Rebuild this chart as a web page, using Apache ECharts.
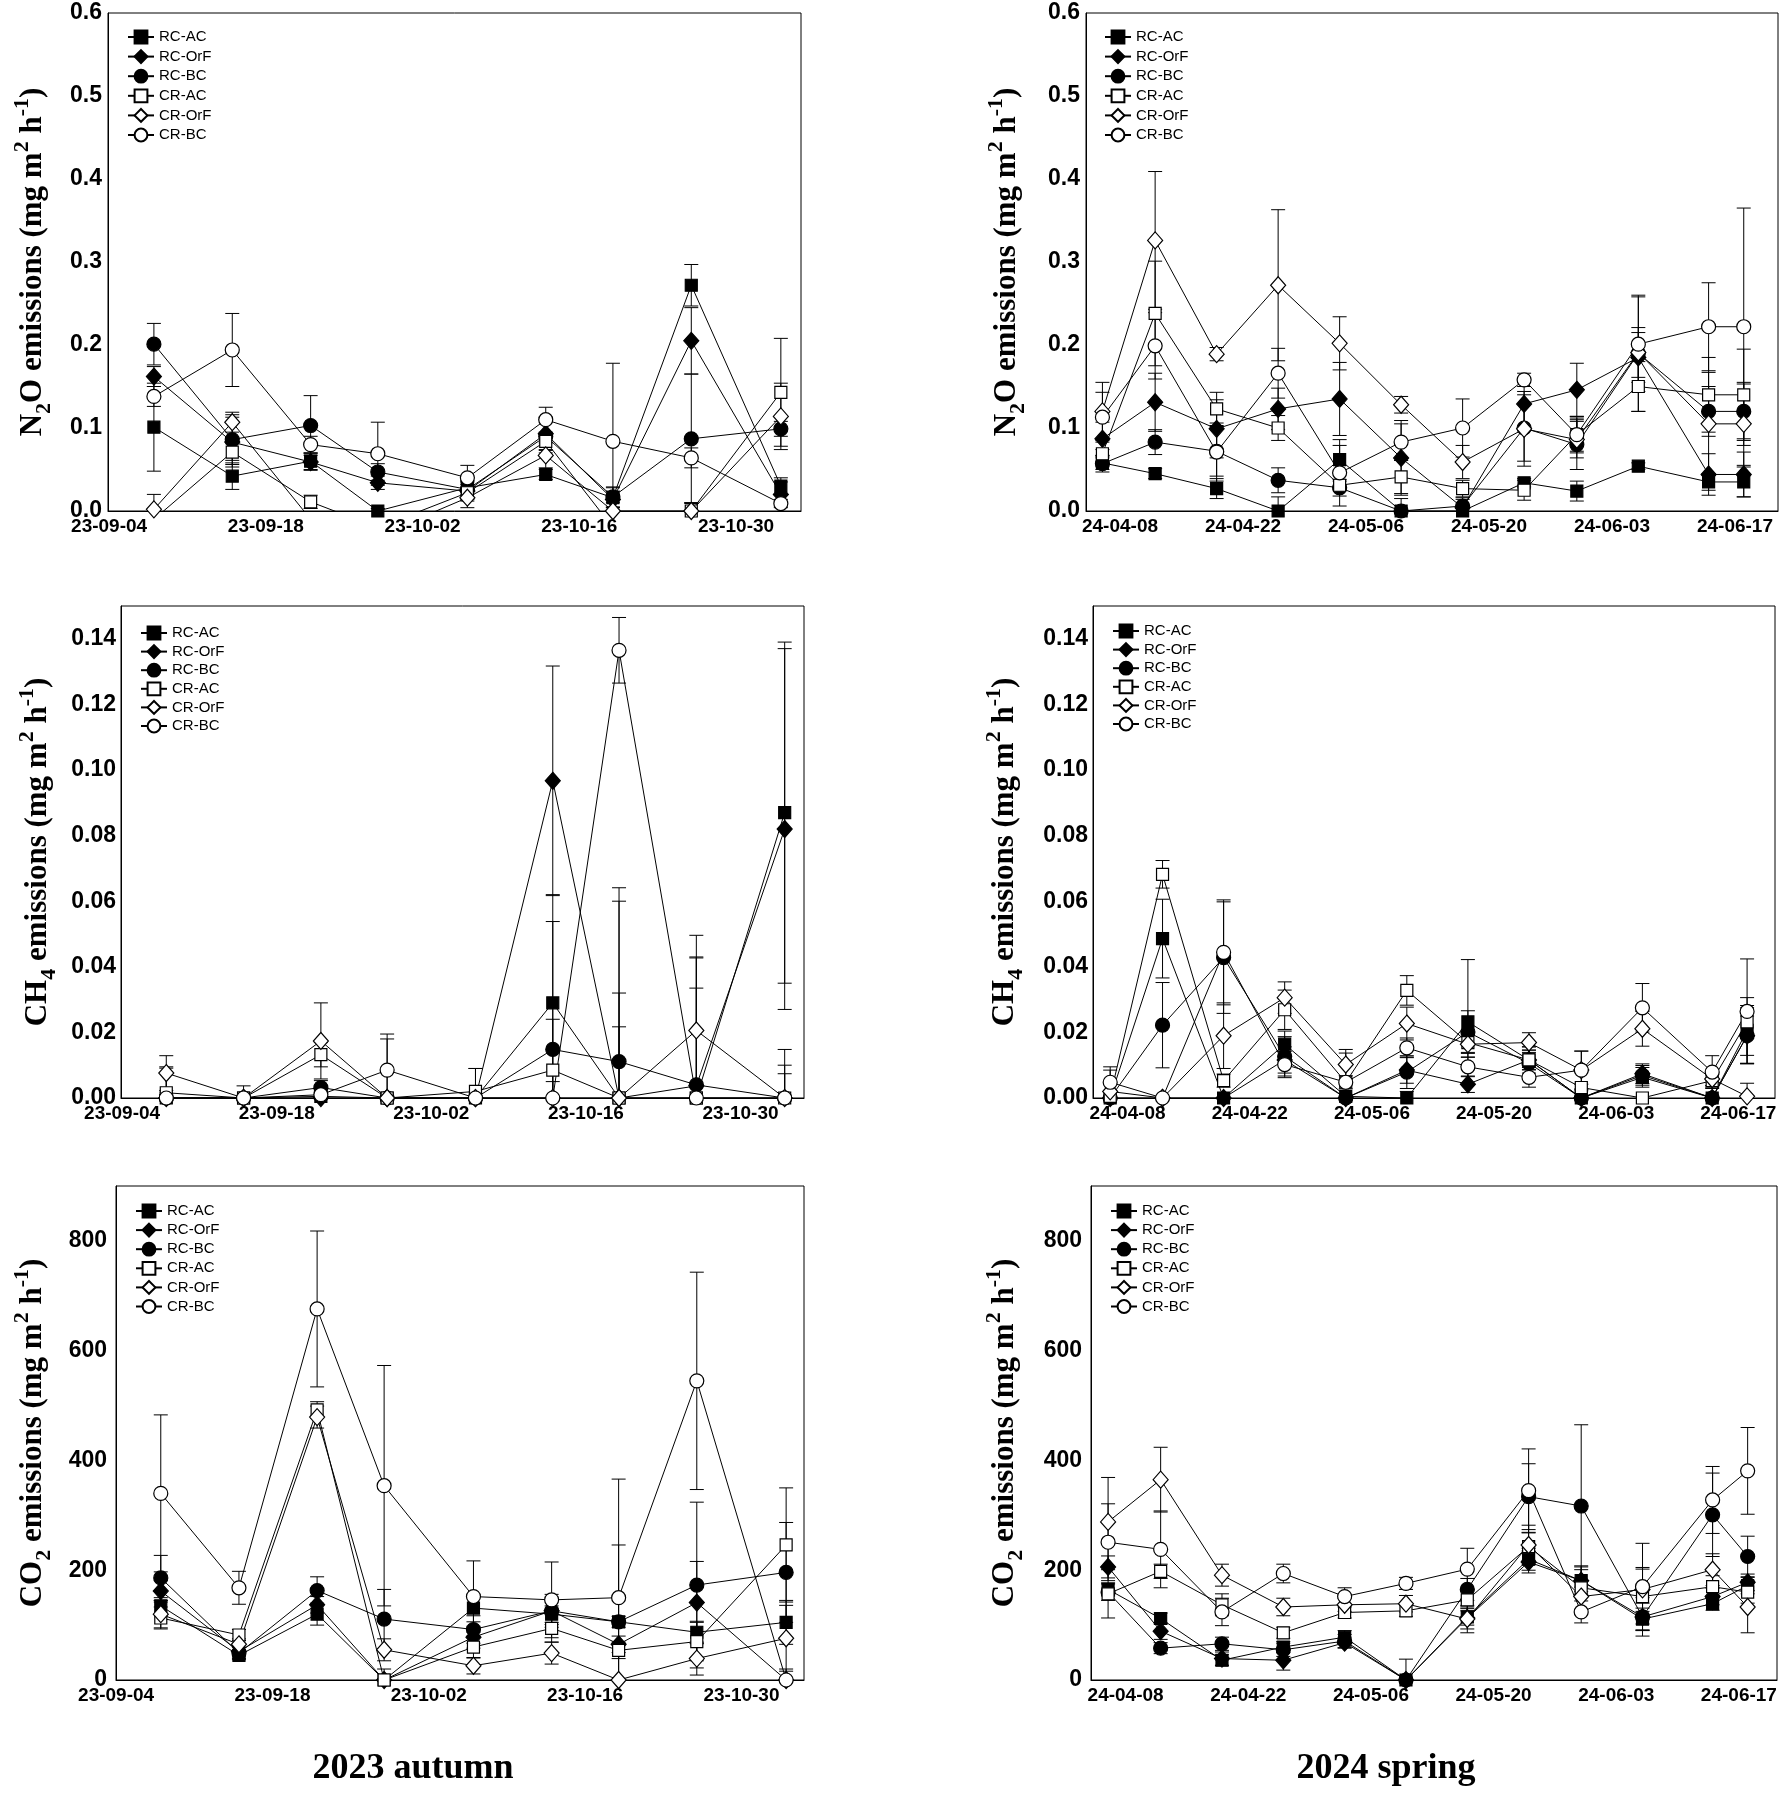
<!DOCTYPE html>
<html>
<head>
<meta charset="utf-8">
<script src="https://cdn.jsdelivr.net/npm/echarts@6/dist/echarts.min.js"></script>
<style>
html, body { margin: 0; padding: 0; background: #fff; }
#chart { width: 1792px; height: 1800px; }
</style>
</head>
<body>
<div id="chart"></div>
<script>
// treatments, in legend order
const treatments = ['RC-AC', 'RC-OrF', 'RC-BC', 'CR-AC', 'CR-OrF', 'CR-BC']

// sampling dates
const autumnDates = ['2023-09-08', '2023-09-15', '2023-09-22', '2023-09-28', '2023-10-06', '2023-10-13', '2023-10-19', '2023-10-26', '2023-11-03']
const springDates = ['2024-04-06', '2024-04-12', '2024-04-19', '2024-04-26', '2024-05-03', '2024-05-10', '2024-05-17', '2024-05-24', '2024-05-30', '2024-06-06', '2024-06-14', '2024-06-18']

// x tick labels
const autumnTicks = ['2023-09-04', '2023-09-18', '2023-10-02', '2023-10-16', '2023-10-30']
const springTicks = ['2024-04-08', '2024-04-22', '2024-05-06', '2024-05-20', '2024-06-03', '2024-06-17']

// y tick labels
const n2oTicks = [0, 0.1, 0.2, 0.3, 0.4, 0.5, 0.6]
const ch4Ticks = [0, 0.02, 0.04, 0.06, 0.08, 0.10, 0.12, 0.14]
const co2Ticks = [0, 200, 400, 600, 800]

// N2O, rows follow treatments
const n2oAutumnMean = [
  [0.101, 0.042, 0.060, 0.0, 0.028, 0.044, 0.016, 0.272, 0.030],
  [0.162, 0.083, 0.059, 0.034, 0.024, 0.093, 0.014, 0.205, 0.020],
  [0.201, 0.086, 0.103, 0.047, 0.026, 0.090, 0.017, 0.087, 0.099],
  [-0.01, 0.071, 0.011, -0.02, 0.022, 0.084, -0.02, 0.0, 0.143],
  [0.002, 0.107, -0.01, -0.03, 0.016, 0.067, 0.0, 0.0, 0.114],
  [0.138, 0.194, 0.080, 0.069, 0.040, 0.110, 0.084, 0.064, 0.009]
]
const n2oAutumnErr = [
  [0.053, 0.016, 0.010, 0.003, 0.008, 0.006, 0.012, 0.025, 0.010],
  [0.012, 0.030, 0.010, 0.008, 0.010, 0.020, 0.010, 0.040, 0.015],
  [0.025, 0.030, 0.036, 0.010, 0.010, 0.020, 0.012, 0.078, 0.009],
  [0.0, 0.010, 0.008, 0.0, 0.010, 0.010, 0.0, 0.010, 0.065],
  [0.018, 0.012, 0.0, 0.0, 0.012, 0.015, 0.010, 0.010, 0.040],
  [0.012, 0.044, 0.010, 0.038, 0.015, 0.015, 0.094, 0.012, 0.005]
]
const n2oSpringMean = [
  [0.058, 0.045, 0.027, 0.0, 0.062, 0.0, 0.0, 0.034, 0.024, 0.054, 0.035, 0.035],
  [0.087, 0.131, 0.099, 0.123, 0.135, 0.064, 0.004, 0.129, 0.146, 0.185, 0.044, 0.044],
  [0.057, 0.083, 0.072, 0.037, 0.028, 0.0, 0.006, 0.100, 0.080, 0.190, 0.120, 0.120],
  [0.069, 0.238, 0.123, 0.100, 0.031, 0.041, 0.027, 0.025, 0.092, 0.150, 0.140, 0.140],
  [0.120, 0.326, 0.189, 0.272, 0.202, 0.128, 0.059, 0.099, 0.086, 0.191, 0.105, 0.105],
  [0.113, 0.199, 0.071, 0.166, 0.046, 0.083, 0.100, 0.158, 0.092, 0.201, 0.222, 0.222]
]
const n2oSpringErr = [
  [0.008, 0.006, 0.012, 0.017, 0.017, 0.0, 0.0, 0.005, 0.012, 0.004, 0.010, 0.018],
  [0.020, 0.035, 0.035, 0.025, 0.044, 0.045, 0.010, 0.030, 0.032, 0.030, 0.025, 0.027],
  [0.010, 0.015, 0.030, 0.015, 0.010, 0.015, 0.010, 0.040, 0.030, 0.070, 0.030, 0.033],
  [0.005, 0.063, 0.020, 0.015, 0.005, 0.020, 0.010, 0.012, 0.020, 0.030, 0.045, 0.055],
  [0.035, 0.083, 0.008, 0.091, 0.032, 0.010, 0.020, 0.045, 0.022, 0.030, 0.062, 0.050],
  [0.030, 0.040, 0.035, 0.030, 0.040, 0.022, 0.035, 0.008, 0.022, 0.057, 0.053, 0.143]
]

// CH4
const ch4AutumnMean = [
  [0.0, 0.0, 0.0005, 0.0, 0.0, 0.029, 0.0, 0.0, 0.087],
  [0.0, 0.0, 0.0, 0.0, 0.0, 0.0967, 0.0, 0.0037, 0.082],
  [0.0, 0.0, 0.0032, 0.0, 0.0, 0.0148, 0.0111, 0.004, 0.0],
  [0.0016, 0.0, 0.0132, 0.0, 0.002, 0.0085, 0.0, 0.0, 0.0],
  [0.0076, 0.0, 0.0174, 0.0, 0.0, 0.0, 0.0, 0.0206, 0.0],
  [0.0, 0.0, 0.001, 0.0085, 0.0, 0.0, 0.1365, 0.0, 0.0]
]
const ch4AutumnErr = [
  [0.001, 0.0, 0.002, 0.0, 0.0, 0.033, 0.06, 0.0, 0.052],
  [0.0, 0.0, 0.001, 0.0, 0.009, 0.035, 0.0217, 0.039, 0.055],
  [0.0, 0.0, 0.0021, 0.0, 0.0, 0.039, 0.053, 0.039, 0.0074],
  [0.0075, 0.0037, 0.0037, 0.0, 0.007, 0.0155, 0.032, 0.0335, 0.0148],
  [0.0053, 0.0, 0.0116, 0.018, 0.0, 0.005, 0.0, 0.029, 0.0],
  [0.0095, 0.0, 0.001, 0.011, 0.0, 0.0, 0.01, 0.0, 0.010]
]
const ch4SpringMean = [
  [0.0, 0.0486, 0.0, 0.0164, 0.0005, 0.0, 0.0232, 0.0116, 0.0, 0.0063, 0.0, 0.0206],
  [0.0, 0.0, 0.0, 0.0116, 0.0, 0.0085, 0.0042, 0.0116, 0.0, 0.0074, 0.0, 0.019],
  [0.0, 0.0222, 0.0428, 0.0127, 0.0, 0.0079, 0.0201, 0.0106, 0.0, 0.0069, 0.0, 0.019],
  [0.0005, 0.0682, 0.0053, 0.0269, 0.0048, 0.0328, 0.0169, 0.0116, 0.0032, 0.0, 0.0053, 0.0232],
  [0.002, 0.0, 0.019, 0.0306, 0.0102, 0.0227, 0.0164, 0.0169, 0.0085, 0.0211, 0.0058, 0.0005],
  [0.0048, 0.0, 0.0444, 0.0102, 0.0048, 0.0153, 0.0095, 0.0063, 0.0085, 0.0275, 0.0079, 0.0264]
]
const ch4SpringErr = [
  [0.0, 0.012, 0.0, 0.004, 0.0, 0.002, 0.019, 0.003, 0.0, 0.003, 0.0, 0.010],
  [0.0, 0.0, 0.0, 0.004, 0.0, 0.004, 0.0025, 0.004, 0.0, 0.003, 0.0, 0.006],
  [0.0, 0.013, 0.017, 0.006, 0.0, 0.005, 0.0065, 0.005, 0.0, 0.003, 0.0, 0.0085],
  [0.004, 0.0042, 0.002, 0.006, 0.002, 0.0045, 0.003, 0.003, 0.001, 0.0, 0.002, 0.005],
  [0.0065, 0.0, 0.010, 0.0048, 0.0046, 0.005, 0.004, 0.003, 0.0058, 0.0053, 0.002, 0.004],
  [0.0047, 0.0, 0.016, 0.004, 0.0089, 0.003, 0.003, 0.003, 0.0058, 0.0074, 0.005, 0.016]
]

// CO2
const co2AutumnMean = [
  [135, 45, 120, 0, 131, 120, 106, 87, 105],
  [162, 52, 137, 0, 78, 126, 65, 141, 0],
  [186, 49, 163, 111, 92, 126, 106, 173, 196],
  [113, 82, 492, 0, 60, 94, 54, 70, 246],
  [120, 65, 479, 55, 26, 49, 0, 39, 76],
  [340, 168, 676, 354, 152, 146, 150, 545, 0]
]
const co2AutumnErr = [
  [15, 8, 20, 0, 25, 15, 10, 20, 40],
  [20, 10, 15, 0, 20, 25, 15, 75, 0],
  [41, 10, 25, 54, 25, 30, 140, 151, 91],
  [20, 10, 15, 20, 20, 25, 15, 35, 104],
  [25, 10, 20, 20, 15, 20, 0, 30, 60],
  [143, 30, 142, 219, 65, 69, 216, 198, 20]
]
const co2SpringMean = [
  [165, 112, 36, 60, 78, 0, 115, 220, 181, 111, 139, 172],
  [206, 89, 39, 36, 68, 0, 113, 215, 181, 115, 152, 178],
  [160, 58, 66, 55, 71, 0, 165, 334, 317, 115, 301, 225],
  [157, 198, 137, 86, 123, 126, 146, 243, 168, 152, 170, 160],
  [288, 365, 191, 133, 137, 139, 111, 246, 152, 165, 201, 133],
  [251, 238, 124, 194, 152, 176, 202, 345, 124, 170, 328, 381]
]
const co2SpringErr = [
  [12, 10, 10, 10, 12, 0, 15, 20, 25, 20, 12, 15],
  [20, 15, 12, 18, 10, 0, 20, 20, 20, 25, 15, 15],
  [15, 10, 12, 12, 12, 38, 20, 60, 148, 35, 76, 37],
  [44, 13, 20, 10, 10, 10, 20, 25, 40, 50, 20, 20],
  [81, 59, 20, 16, 12, 15, 25, 36, 30, 40, 29, 47],
  [70, 70, 25, 17, 16, 11, 38, 76, 20, 79, 61, 79]
]

const DAY = 86400000
const SANS = '"Liberation Sans", Arial, sans-serif'
const SERIF = '"Liberation Serif", "Times New Roman", serif'

const seasons = {
  autumn: { origin: autumnTicks[0], dates: autumnDates, ticks: autumnTicks },
  spring: { origin: springTicks[0], dates: springDates, ticks: springTicks }
}

const gases = {
  n2o: { max: 0.6, ticks: n2oTicks, digits: 1, name: ['N', '2', 'O'], margin: 6 },
  ch4: { max: 0.15, ticks: ch4Ticks, digits: 2, name: ['CH', '4', ''], margin: 5 },
  co2: { max: 900, ticks: co2Ticks, digits: 0, name: ['CO', '2', ''], margin: 9 }
}

// layout of the six panels: grid [left, top, width, height], legend [left, top, gap]
const panels = [
  { gas: 'n2o', season: 'autumn', mean: n2oAutumnMean, err: n2oAutumnErr, grid: [108, 13, 693, 498], legend: [127, 29, 3.6], x: [-0.1, 61.8], nameGap: 53 },
  { gas: 'n2o', season: 'spring', mean: n2oSpringMean, err: n2oSpringErr, grid: [1086, 13, 692, 498], legend: [1104, 29, 3.6], x: [-3.87, 74.9], nameGap: 57 },
  { gas: 'ch4', season: 'autumn', mean: ch4AutumnMean, err: ch4AutumnErr, grid: [121, 606, 683, 492], legend: [140, 625, 2.6], x: [-0.1, 61.75], nameGap: 61 },
  { gas: 'ch4', season: 'spring', mean: ch4SpringMean, err: ch4SpringErr, grid: [1093, 606, 682, 492], legend: [1112, 623, 2.6], x: [-3.97, 74.2], nameGap: 66 },
  { gas: 'co2', season: 'autumn', mean: co2AutumnMean, err: co2AutumnErr, grid: [116, 1186, 688, 494], legend: [135, 1203, 3.1], x: [-0.01, 61.6], nameGap: 61 },
  { gas: 'co2', season: 'spring', mean: co2SpringMean, err: co2SpringErr, grid: [1091, 1186, 686, 494], legend: [1110, 1203, 3.1], x: [-3.95, 74.35], nameGap: 64 }
]

const symbols = ['rect', 'diamond', 'circle', 'rect', 'diamond', 'circle']
const symbolSizes = [12, [15, 17], 14, 12, [15, 17], 14]
const fills = ['#000', '#000', '#000', '#fff', '#fff', '#fff']

function dayOf(date, origin) {
  return (Date.parse(date) - Date.parse(origin)) / DAY
}

function pad(n) {
  return n < 10 ? '0' + n : '' + n
}

function dateLabel(origin) {
  const t0 = Date.parse(origin)
  return v => {
    const d = new Date(t0 + Math.round(v) * DAY)
    return String(d.getUTCFullYear()).slice(2) + '-' + pad(d.getUTCMonth() + 1) + '-' + pad(d.getUTCDate())
  }
}

function axisName(parts) {
  return '{t|' + parts[0] + '}{sub|' + parts[1] + '}{t|' + parts[2] + ' emissions (mg m}{sup|2}{t| h}{sup|-1}{t|)}'
}

function renderErrorBar(params, api) {
  const x = api.value(0)
  const m = api.value(1)
  const e = api.value(2)
  if (!(e > 0) || m < 0) {
    return null
  }
  const low = m - e
  const top = api.coord([x, m + e])
  const bottom = api.coord([x, Math.max(low, 0)])
  const half = 7
  const style = { stroke: '#000', lineWidth: 1 }
  const children = [
    { type: 'line', shape: { x1: top[0], y1: top[1], x2: bottom[0], y2: bottom[1] }, style },
    { type: 'line', shape: { x1: top[0] - half, y1: top[1], x2: top[0] + half, y2: top[1] }, style }
  ]
  if (low > 0) {
    children.push({ type: 'line', shape: { x1: bottom[0] - half, y1: bottom[1], x2: bottom[0] + half, y2: bottom[1] }, style })
  }
  return { type: 'group', children }
}

const grid = []
const xAxis = []
const yAxis = []
const legend = []
const series = []

panels.forEach((p, k) => {
  const s = seasons[p.season]
  const g = gases[p.gas]
  const xs = s.dates.map(d => dayOf(d, s.origin))

  grid.push({
    left: p.grid[0], top: p.grid[1], width: p.grid[2], height: p.grid[3],
    show: true, borderColor: '#000', borderWidth: 1, backgroundColor: 'transparent',
    containLabel: false, outerBoundsMode: 'none'
  })

  xAxis.push({
    type: 'value',
    gridIndex: k,
    min: p.x[0],
    max: p.x[1],
    axisLine: { show: true, onZero: false, lineStyle: { color: '#000', width: 1 } },
    axisTick: { show: false },
    splitLine: { show: false },
    axisLabel: {
      customValues: s.ticks.map(d => dayOf(d, s.origin)),
      formatter: dateLabel(s.origin),
      color: '#000',
      fontFamily: SANS,
      fontWeight: 'bold',
      fontSize: 19,
      margin: 6
    }
  })

  yAxis.push({
    type: 'value',
    gridIndex: k,
    min: 0,
    max: g.max,
    axisLine: { show: true, onZero: false, lineStyle: { color: '#000', width: 1 } },
    axisTick: { show: false },
    splitLine: { show: false },
    axisLabel: {
      customValues: g.ticks,
      formatter: v => v.toFixed(g.digits),
      color: '#000',
      fontFamily: SANS,
      fontWeight: 'bold',
      fontSize: 23,
      margin: g.margin
    },
    name: axisName(g.name),
    nameLocation: 'middle',
    nameRotate: 90,
    nameGap: p.nameGap,
    nameTextStyle: {
      color: '#000',
      fontFamily: SERIF,
      fontWeight: 'bold',
      fontSize: 31,
      rich: {
        t: { fontFamily: SERIF, fontWeight: 'bold', fontSize: 31, lineHeight: 44, color: '#000' },
        sub: { fontFamily: SERIF, fontWeight: 'bold', fontSize: 22, lineHeight: 22, verticalAlign: 'bottom', color: '#000' },
        sup: { fontFamily: SERIF, fontWeight: 'bold', fontSize: 22, lineHeight: 22, verticalAlign: 'top', color: '#000' }
      }
    }
  })

  legend.push({
    data: treatments,
    orient: 'vertical',
    left: p.legend[0],
    top: p.legend[1],
    itemGap: p.legend[2],
    itemWidth: 26,
    itemHeight: 16,
    padding: 0,
    selectedMode: false,
    textStyle: { color: '#000', fontFamily: SANS, fontSize: 15, lineHeight: 16 }
  })

  treatments.forEach((t, i) => {
    series.push({
      type: 'custom',
      xAxisIndex: k,
      yAxisIndex: k,
      silent: true,
      clip: true,
      z: 2,
      encode: { x: 0, y: 1 },
      data: xs.map((x, j) => [x, p.mean[i][j], p.err[i][j]]),
      renderItem: renderErrorBar
    })
  })

  treatments.forEach((t, i) => {
    series.push({
      type: 'line',
      name: t,
      xAxisIndex: k,
      yAxisIndex: k,
      data: xs.map((x, j) => [x, p.mean[i][j]]),
      symbol: symbols[i],
      symbolSize: symbolSizes[i],
      showAllSymbol: true,
      clip: true,
      z: 3,
      lineStyle: { color: '#000', width: 1 },
      itemStyle: { color: fills[i], borderColor: '#000', borderWidth: 1.2 },
      emphasis: { disabled: true }
    })
  })
})

const chart = echarts.init(document.getElementById('chart'), null, { renderer: 'canvas' })
chart.setOption({
  animation: false,
  backgroundColor: '#fff',
  grid,
  xAxis,
  yAxis,
  legend,
  series,
  graphic: [
    { type: 'text', x: 413, y: 1769, style: { text: '2023 autumn', font: 'bold 36px ' + SERIF, fill: '#000', textAlign: 'center', textVerticalAlign: 'middle', align: 'center', verticalAlign: 'middle' } },
    { type: 'text', x: 1386, y: 1769, style: { text: '2024 spring', font: 'bold 36px ' + SERIF, fill: '#000', textAlign: 'center', textVerticalAlign: 'middle', align: 'center', verticalAlign: 'middle' } }
  ]
})
</script>
</body>
</html>
